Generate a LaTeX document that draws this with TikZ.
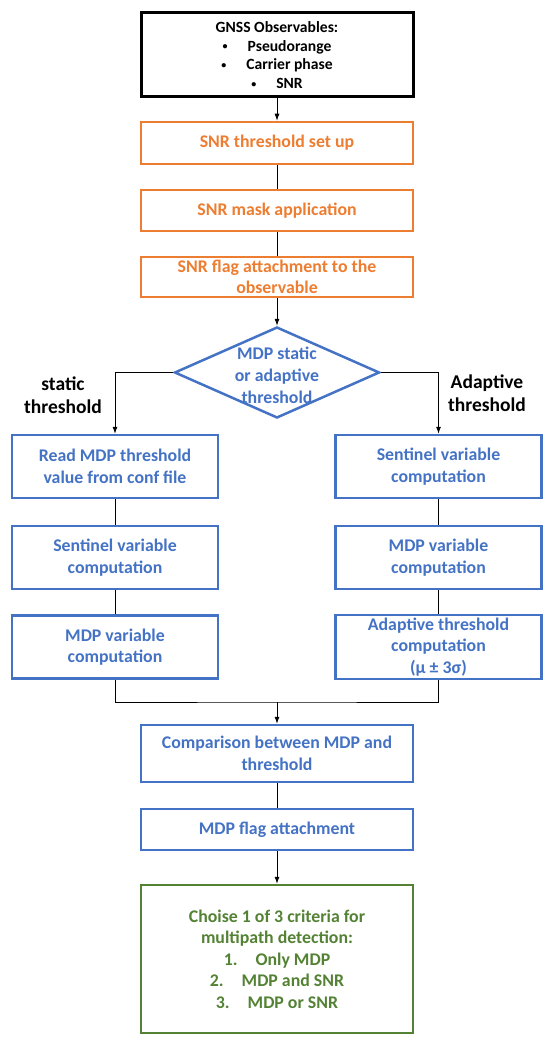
\documentclass[tikz,border=0pt]{standalone}
\usepackage{fontspec}
\setmainfont{Carlito}
\usepackage{tikz}
\usetikzlibrary{shapes.geometric,arrows.meta}
\definecolor{snrorange}{HTML}{ED7D31}
\definecolor{mdpblue}{HTML}{4472C4}
\definecolor{critgreen}{HTML}{548235}
\newcommand{\smallbul}{\raisebox{1.6pt}{\fontsize{10}{10}\selectfont\textbullet}\hspace{20pt}}

\begin{document}
\begin{tikzpicture}[x=1pt,y=-1pt,
        box/.style={draw, line width=2.5pt, align=center, inner sep=0pt,
            font=\bfseries\fontsize{17.8}{21.5}\selectfont},
        wide/.style={box, minimum width=272pt},
        narrow/.style={box, minimum width=206pt, minimum height=63pt, draw=mdpblue, text=mdpblue},
        arr/.style={-{Latex[length=7pt,width=5pt]}, line width=0.8pt},
        conn/.style={line width=0.8pt},
        side/.style={align=center, font=\bfseries\fontsize{19.5}{23.5}\selectfont}]
    \useasboundingbox (0,0) rectangle (553,1043);
        % input and SNR part
        \node[wide, line width=3pt, minimum height=84pt, font=\bfseries\fontsize{15.6}{18.8}\selectfont]
            (gnss) at (277,55) {GNSS Observables:\\
            \smallbul Pseudorange\\
            \smallbul Carrier phase\\
            \smallbul SNR};
        \node[wide, minimum height=42pt, draw=snrorange, text=snrorange] (setup) at (277,143) {SNR threshold set up};
        \node[wide, minimum height=41pt, draw=snrorange, text=snrorange] (mask) at (277,210.5) {SNR mask application};
        \node[wide, minimum height=40pt, draw=snrorange, text=snrorange] (snrflag) at (277,277) {SNR flag attachment to the\\observable};
        \draw[arr] (gnss) -- (setup);
        \draw[conn] (setup) -- (mask);
        \draw[conn] (mask) -- (snrflag);
        % decision
        \node[diamond, draw=mdpblue, line width=2.5pt, minimum width=205pt, minimum height=91pt, inner sep=0pt,
            label={[align=center, text=mdpblue, font=\bfseries\fontsize{17.8}{22}\selectfont, yshift=-3pt]center:MDP static\\or adaptive\\threshold}]
            (choice) at (277,372.5) {};
        \draw[arr] (snrflag) -- (choice);
        \node[side] (statlab) at (63,395) {static\\threshold};
        \node[side] (adaplab) at (487,393) {Adaptive\\threshold};
        % static branch
        \node[narrow] (readconf) at (115,466.5) {Read MDP threshold\\value from conf file};
        \node[narrow] (sentl) at (115,557.5) {Sentinel variable\\computation};
        \node[narrow] (mdpl) at (115,647) {MDP variable\\computation};
        % adaptive branch
        \node[narrow] (sentr) at (438.5,466.5) {Sentinel variable\\computation};
        \node[narrow] (mdpr) at (438.5,557.5) {MDP variable\\computation};
        \node[narrow, minimum height=64pt] (adapt) at (438.5,647) {Adaptive threshold\\computation\\(μ ± 3σ)};
        \draw[arr] (choice.west) -| (readconf);
        \draw[arr] (choice.east) -| (sentr);
        \draw[conn] (readconf) -- (sentl);
        \draw[conn] (sentl) -- (mdpl);
        \draw[conn] (sentr) -- (mdpr);
        \draw[conn] (mdpr) -- (adapt);
        % merge and detection
        \coordinate (merge) at (277,702);
        \node[wide, minimum height=57pt, draw=mdpblue, text=mdpblue] (compare) at (277,753.5) {Comparison between MDP and\\threshold};
        \node[wide, minimum height=41pt, draw=mdpblue, text=mdpblue] (mdpflag) at (277,829.5) {MDP flag attachment};
        \node[wide, minimum height=148pt, draw=critgreen, text=critgreen] (criteria) at (277,959)
            {Choise 1 of 3 criteria for\\multipath detection:\\
            1.\hspace{18pt}Only MDP\\
            2.\hspace{18pt}MDP and SNR\\
            3.\hspace{18pt}MDP or SNR};
        \draw[conn] (mdpl) |- (merge) -| (adapt);
        \draw[arr] (merge) -- (compare);
        \draw[conn] (compare) -- (mdpflag);
        \draw[arr] (mdpflag) -- (criteria);
    \end{tikzpicture}
\end{document}
